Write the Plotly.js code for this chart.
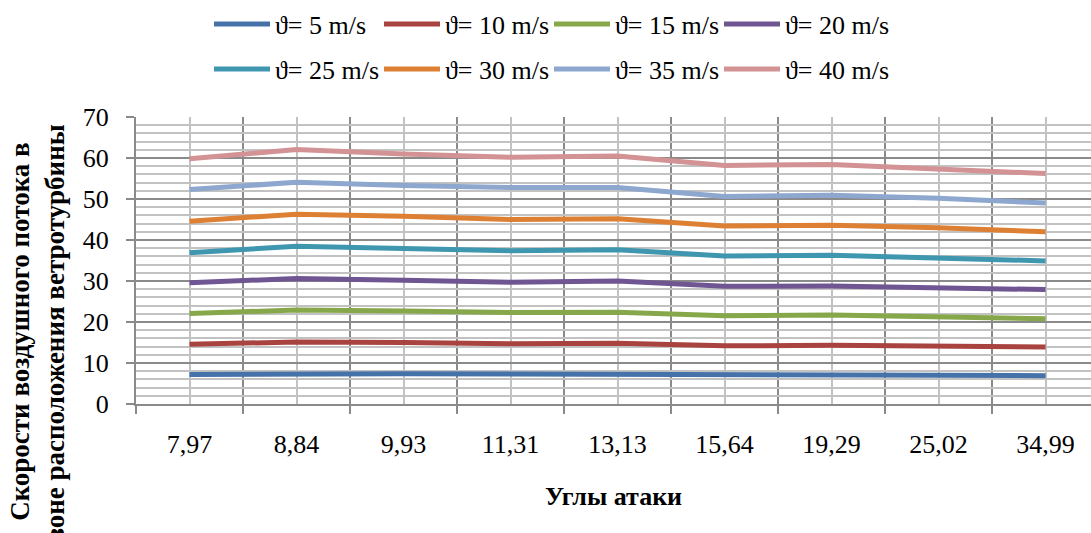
<!DOCTYPE html>
<html>
<head>
<meta charset="utf-8">
<script src="https://cdn.plot.ly/plotly-3.0.1.min.js"></script>
<style>html,body{margin:0;padding:0;background:#fff;}#chart{width:1091px;height:533px;}</style>
</head>
<body>
<div id="chart"></div>
<script>
// Data
const categories = ['7,97', '8,84', '9,93', '11,31', '13,13', '15,64', '19,29', '25,02', '34,99'];
const seriesNames = ['ϑ= 5 m/s', 'ϑ= 10 m/s', 'ϑ= 15 m/s', 'ϑ= 20 m/s',
                     'ϑ= 25 m/s', 'ϑ= 30 m/s', 'ϑ= 35 m/s', 'ϑ= 40 m/s'];
const v5  = [7.2, 7.4, 7.4, 7.3, 7.3, 7.05, 7.05, 7.0, 6.9];
const v10 = [14.6, 15.1, 15.0, 14.7, 14.8, 14.2, 14.3, 14.0, 13.9];
const v15 = [22.1, 22.9, 22.7, 22.3, 22.4, 21.5, 21.7, 21.3, 20.8];
const v20 = [29.6, 30.6, 30.2, 29.7, 30.0, 28.7, 28.8, 28.4, 27.9];
const v25 = [36.9, 38.5, 37.9, 37.4, 37.6, 36.1, 36.3, 35.7, 34.9];
const v30 = [44.6, 46.3, 45.8, 45.0, 45.2, 43.4, 43.6, 43.0, 42.0];
const v35 = [52.3, 54.1, 53.3, 52.8, 52.8, 50.6, 50.9, 50.2, 49.0];
const v40 = [59.8, 62.1, 61.0, 60.2, 60.5, 58.2, 58.4, 57.4, 56.2];
const yTicks = [0, 10, 20, 30, 40, 50, 60, 70];

const seriesValues = [v5, v10, v15, v20, v25, v30, v35, v40];
const colors = ['#4672AA', '#A9433F', '#87A84A', '#6F5592', '#3F97AF', '#DE8034', '#8DA7CF', '#D39293'];

const xIdx = categories.map((c, i) => i);
const boundaries = categories.map((c, i) => i - 0.5).concat([categories.length - 0.5]);

const traces = seriesValues.map((vals, k) => ({
  type: 'scatter',
  mode: 'lines',
  name: seriesNames[k],
  x: xIdx,
  y: vals,
  line: {color: colors[k], width: 5},
  legend: k < 4 ? 'legend' : 'legend2',
  hoverinfo: 'skip'
}));

const font = 'Liberation Serif, Times New Roman, serif';
const major = '#8A8A8A';
const minor = '#C2C2C2';

const legendCommon = {
  orientation: 'h',
  xref: 'container', yref: 'container',
  xanchor: 'left', yanchor: 'middle',
  entrywidth: 99, entrywidthmode: 'pixels',
  itemwidth: 56,
  font: {family: font, size: 26, color: '#000'},
  bgcolor: 'rgba(0,0,0,0)',
  traceorder: 'normal'
};

const layout = {
  width: 1091, height: 533,
  margin: {l: 136, r: 0, t: 117, b: 129},
  paper_bgcolor: '#fff', plot_bgcolor: '#fff',
  font: {family: font, size: 26, color: '#000'},
  showlegend: true,
  legend: Object.assign({}, legendCommon, {x: 209 / 1091, y: 1 - 24 / 533}),
  legend2: Object.assign({}, legendCommon, {x: 209 / 1091, y: 1 - 69 / 533}),
  xaxis: {
    type: 'linear',
    range: [-0.5, 8.425],
    tickmode: 'array',
    tickvals: xIdx,
    ticktext: categories,
    ticks: '',
    showgrid: true, gridcolor: minor, gridwidth: 2,
    minor: {
      tickmode: 'array', tickvals: boundaries,
      ticks: 'outside', ticklen: 8, tickwidth: 2, tickcolor: major,
      showgrid: true, gridcolor: major, gridwidth: 2
    },
    showline: true, linecolor: major, linewidth: 2,
    zeroline: false,
    tickfont: {family: font, size: 26, color: '#000'},
    ticklabelstandoff: 16,
    title: {text: 'Углы атаки', font: {family: font, size: 26, color: '#000', weight: 'bold'}, standoff: 29},
    fixedrange: true
  },
  yaxis: {
    range: [0, 70],
    tickmode: 'array',
    tickvals: yTicks,
    ticks: 'outside', ticklen: 8, tickwidth: 2, tickcolor: major,
    showgrid: true, gridcolor: major, gridwidth: 2,
    minor: {dtick: 2, tick0: 0, showgrid: true, gridcolor: minor, gridwidth: 2, ticks: ''},
    showline: true, linecolor: major, linewidth: 2,
    zeroline: false,
    tickfont: {family: font, size: 26, color: '#000'},
    ticklabelstandoff: 12,
    fixedrange: true
  },
  annotations: [{
    text: 'Скорости воздушного потока в<br>зоне расположения ветротурбины',
    textangle: -90,
    xref: 'paper', yref: 'paper',
    x: (37 - 136) / 955, y: (404 - 332) / 287,
    xanchor: 'center', yanchor: 'middle',
    showarrow: false,
    font: {family: font, size: 27, color: '#000', weight: 'bold'}
  }]
};

Plotly.newPlot('chart', traces, layout, {displayModeBar: false, staticPlot: true});
</script>
</body>
</html>
